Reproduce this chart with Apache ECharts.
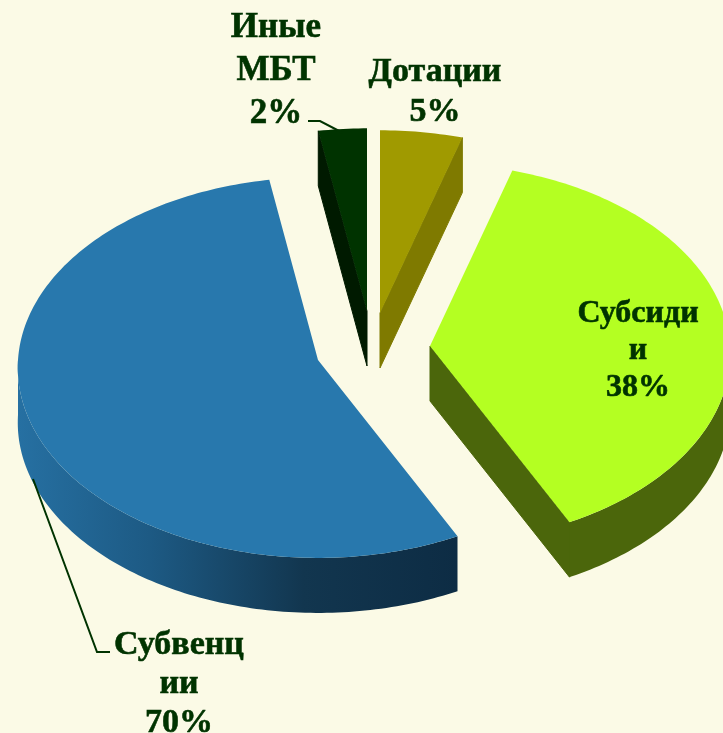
<!DOCTYPE html>
<html>
<head>
<meta charset="utf-8">
<style>
html,body{margin:0;padding:0;background:#fbfae6;}
#main{width:723px;height:733px;}
</style>
<script src="https://cdn.jsdelivr.net/npm/echarts@6/dist/echarts.min.js"></script>
</head>
<body>
<div id="main"></div>
<script>
// slice sizes as measured on the picture, clockwise from 12 o'clock
var names = ['Дотации', 'Субсидии', 'Субвенции', 'Иные МБТ'];
var shares = [4.6, 38, 54.7, 2.7];
// printed captions (the source prints 70% on the slice that is really ~55%)
var captions = ['Дотации\n5%', 'Субсиди\nи\n38%', 'Субвенц\nии\n70%', 'Иные\nМБТ\n2%'];

// layout of the fake 3d pie
var apexes = [[380, 313], [430, 346], [318, 360], [367, 311]];
var captionPos = [[435, 92], [638, 351], [179, 684], [276, 71]];
var captionSize = [34, 32, 34, 35];
var captionLine = [40, 37, 39, 43];
var leaders = [null, null, [[33, 479], [97, 652], [110, 652]], [[308, 121], [320, 121], [343, 133]]];
var RX = 300, RY = 190, DEPTH = 55, PERSP = 0.04;

var textColor = '#003300';
var topColors = ['#a09a00', '#b4ff22', '#2878ad', '#003300'];
var wallColors = ['#7f7a00', '#4b660b', null, '#001a00'];
var blueWall = new echarts.graphic.LinearGradient(0, 0, 1, 0, [
    {offset: 0, color: '#2670a2'},
    {offset: 0.3, color: '#1d5a84'},
    {offset: 0.65, color: '#12364f'},
    {offset: 1, color: '#0d2c44'}
]);

var total = shares.reduce(function (a, b) { return a + b; }, 0);

function project(apex, deg) {
    var t = deg * Math.PI / 180, u = Math.sin(t), v = -Math.cos(t);
    var s = 1 / (1 - PERSP * v);
    return [apex[0] + RX * u * s, apex[1] + RY * v * s];
}

function arc(apex, from, to) {
    var pts = [];
    for (var d = from; d < to; d += 1) {
        pts.push(project(apex, d));
    }
    pts.push(project(apex, to));
    return pts;
}

function poly(points, fill) {
    return {type: 'polygon', shape: {points: points}, style: {fill: fill}, silent: true};
}

function radialWall(apex, p, fill) {
    var wall = poly([apex, p, [p[0], p[1] + DEPTH], [apex[0], apex[1] + DEPTH]], fill);
    // hide the hairline where it meets the rim
    wall.style.stroke = fill;
    wall.style.lineWidth = 1;
    return wall;
}

function renderSlice(params, api) {
    var i = params.dataIndex;
    var before = 0;
    for (var k = 0; k < i; k++) {
        before += shares[k];
    }
    var from = before / total * 360;
    var to = from + api.value(0) / total * 360;
    var apex = apexes[i];
    var wall = wallColors[i] || blueWall;
    var children = [];

    var pStart = project(apex, from), pEnd = project(apex, to);
    // side walls only show when they face the viewer
    if (pStart[0] < apex[0] - 0.5) {
        children.push(radialWall(apex, pStart, wall));
    }
    if (pEnd[0] > apex[0] + 0.5) {
        children.push(radialWall(apex, pEnd, wall));
    }
    // rim on the near half
    var a = Math.max(from, 90), b = Math.min(to, 270);
    if (a < b) {
        var rim = arc(apex, a, b);
        var low = rim.map(function (p) { return [p[0], p[1] + DEPTH]; }).reverse();
        children.push(poly(rim.concat(low), wall));
    }
    children.push(poly([apex].concat(arc(apex, from, to)), topColors[i]));

    if (leaders[i]) {
        children.push({
            type: 'polyline',
            shape: {points: leaders[i]},
            style: {stroke: textColor, lineWidth: 2, fill: null},
            silent: true
        });
    }
    children.push({
        type: 'text',
        x: captionPos[i][0],
        y: captionPos[i][1],
        style: {
            text: captions[i],
            fill: textColor,
            stroke: textColor,
            lineWidth: 0.6,
            font: 'bold ' + captionSize[i] + 'px "Liberation Serif"',
            lineHeight: captionLine[i],
            align: 'center',
            verticalAlign: 'middle'
        },
        silent: true
    });
    return {type: 'group', children: children};
}

var chart = echarts.init(document.getElementById('main'));
chart.setOption({
    backgroundColor: '#fbfae6',
    animation: false,
    series: [{
        type: 'custom',
        coordinateSystem: 'none',
        renderItem: renderSlice,
        data: shares.map(function (v, i) { return {name: names[i], value: [v]}; })
    }]
});
</script>
</body>
</html>
